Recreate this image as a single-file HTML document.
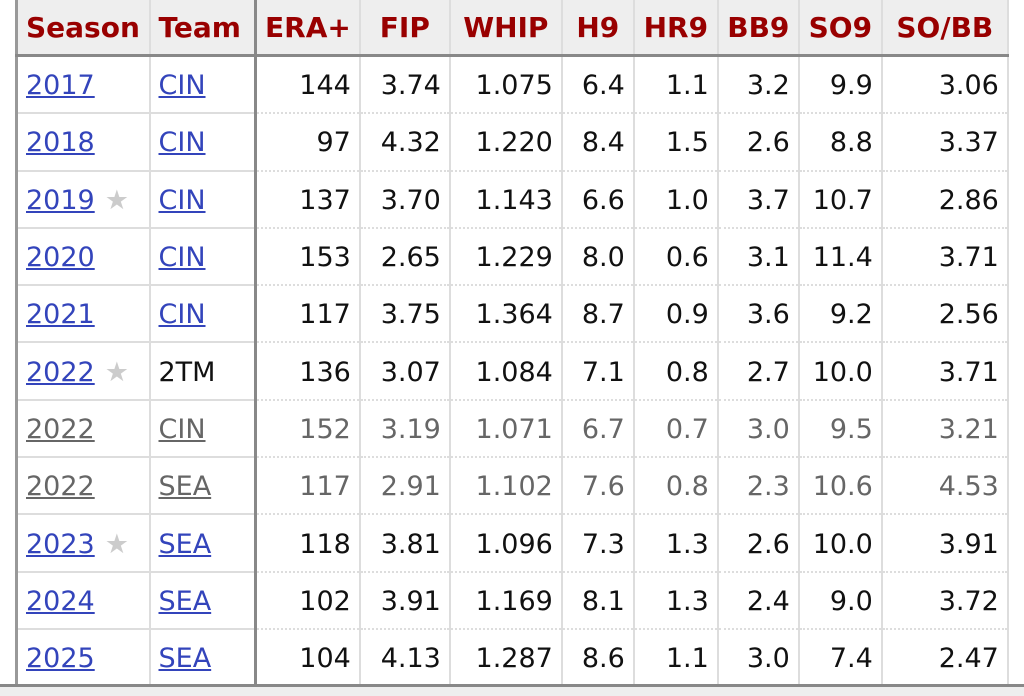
<!DOCTYPE html>
<html><head><style>
body{margin:0;width:1024px;height:693px;overflow:hidden;background:#fff;font-family:"DejaVu Sans",Verdana,sans-serif;}
#t{position:absolute;left:15px;top:0px;}
table{border-collapse:collapse;table-layout:fixed;}
td,th{padding:0 8px;height:55.3px;font-size:27px;white-space:nowrap;border-left:2px solid #ddd;line-height:30px;}
td{padding-top:3px;height:52.3px;}
th{background:#eee;color:#900;font-weight:bold;height:54px;text-align:center;border-bottom:3px solid #888;font-size:28px;padding-top:2px;height:52px;}
td{text-align:right;border-bottom:2px dotted #ddd;color:#111;}
td.l{text-align:left;border-bottom:2px solid #ddd;}
td.l2,th.l2{border-right:3px solid #888;}
tr td:first-child,tr th:first-child{border-left:3px solid #999;}
tr td:last-child,tr th:last-child{border-right:2px solid #ddd;}
a{color:#3344bb;text-decoration:underline;}
.g td,.g a{color:#666;}
.s{color:#ccc;margin-left:10px;}
#bot{position:absolute;left:0;top:684px;width:1024px;height:9px;background:#eee;border-top:3px solid #888;}
</style></head><body>
<div id="t"><table>
<colgroup><col style="width:133px"><col style="width:106px"><col style="width:102px"><col style="width:90px"><col style="width:112px"><col style="width:72px"><col style="width:84px"><col style="width:81px"><col style="width:83px"><col style="width:126px"></colgroup>
<tr><th style="text-align:left">Season</th><th class="l2" style="text-align:left">Team</th><th>ERA+</th><th>FIP</th><th>WHIP</th><th>H9</th><th>HR9</th><th>BB9</th><th>SO9</th><th>SO/BB</th></tr>
<tr><td class="l"><a>2017</a></td><td class="l l2"><a>CIN</a></td><td>144</td><td>3.74</td><td>1.075</td><td>6.4</td><td>1.1</td><td>3.2</td><td>9.9</td><td>3.06</td></tr>
<tr><td class="l"><a>2018</a></td><td class="l l2"><a>CIN</a></td><td>97</td><td>4.32</td><td>1.220</td><td>8.4</td><td>1.5</td><td>2.6</td><td>8.8</td><td>3.37</td></tr>
<tr><td class="l"><a>2019</a><span class="s">★</span></td><td class="l l2"><a>CIN</a></td><td>137</td><td>3.70</td><td>1.143</td><td>6.6</td><td>1.0</td><td>3.7</td><td>10.7</td><td>2.86</td></tr>
<tr><td class="l"><a>2020</a></td><td class="l l2"><a>CIN</a></td><td>153</td><td>2.65</td><td>1.229</td><td>8.0</td><td>0.6</td><td>3.1</td><td>11.4</td><td>3.71</td></tr>
<tr><td class="l"><a>2021</a></td><td class="l l2"><a>CIN</a></td><td>117</td><td>3.75</td><td>1.364</td><td>8.7</td><td>0.9</td><td>3.6</td><td>9.2</td><td>2.56</td></tr>
<tr><td class="l"><a>2022</a><span class="s">★</span></td><td class="l l2">2TM</td><td>136</td><td>3.07</td><td>1.084</td><td>7.1</td><td>0.8</td><td>2.7</td><td>10.0</td><td>3.71</td></tr>
<tr class="g"><td class="l"><a>2022</a></td><td class="l l2"><a>CIN</a></td><td>152</td><td>3.19</td><td>1.071</td><td>6.7</td><td>0.7</td><td>3.0</td><td>9.5</td><td>3.21</td></tr>
<tr class="g"><td class="l"><a>2022</a></td><td class="l l2"><a>SEA</a></td><td>117</td><td>2.91</td><td>1.102</td><td>7.6</td><td>0.8</td><td>2.3</td><td>10.6</td><td>4.53</td></tr>
<tr><td class="l"><a>2023</a><span class="s">★</span></td><td class="l l2"><a>SEA</a></td><td>118</td><td>3.81</td><td>1.096</td><td>7.3</td><td>1.3</td><td>2.6</td><td>10.0</td><td>3.91</td></tr>
<tr><td class="l"><a>2024</a></td><td class="l l2"><a>SEA</a></td><td>102</td><td>3.91</td><td>1.169</td><td>8.1</td><td>1.3</td><td>2.4</td><td>9.0</td><td>3.72</td></tr>
<tr><td class="l"><a>2025</a></td><td class="l l2"><a>SEA</a></td><td>104</td><td>4.13</td><td>1.287</td><td>8.6</td><td>1.1</td><td>3.0</td><td>7.4</td><td>2.47</td></tr>
</table></div>
<div id="bot"></div>
</body></html>
